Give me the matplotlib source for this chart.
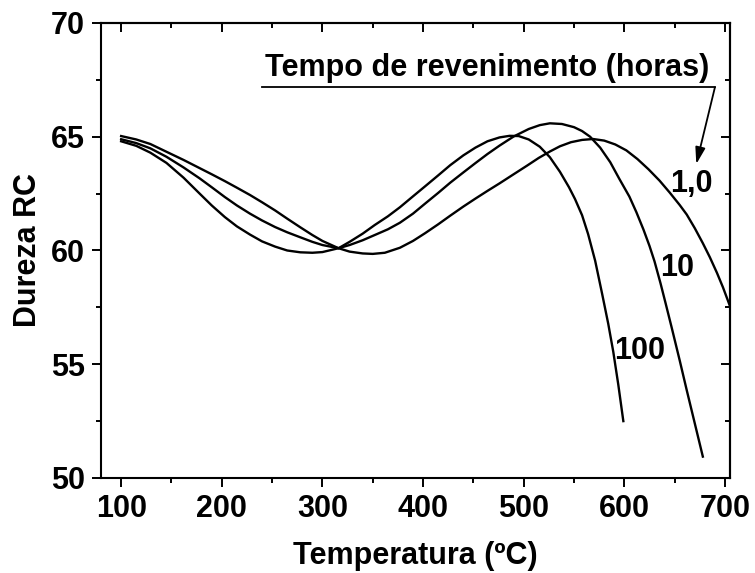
import matplotlib
matplotlib.use("Agg")
import matplotlib.pyplot as plt
from matplotlib.ticker import MultipleLocator

plt.rcParams['font.family'] = ['Liberation Sans', 'DejaVu Sans']
plt.rcParams['font.weight'] = 'bold'

# Dureza RC vs temperatura, por tempo de revenimento
t_1h = [100, 115, 129, 145, 162, 178, 190, 203, 215, 228, 240, 253, 265, 278, 290, 300,
        316, 327, 340, 350, 362, 377, 390, 402, 415, 427, 440, 452, 464, 476, 490, 503,
        515, 526, 536, 547, 558, 569, 580, 591, 602, 613, 624, 635, 645, 655, 662, 670,
        678, 685, 692, 698, 705]
hrc_1h = [65.03, 64.88, 64.68, 64.34, 63.98, 63.62, 63.35, 63.05, 62.76, 62.44, 62.12, 61.76,
          61.4, 61.02, 60.68, 60.42, 60.1, 59.95, 59.87, 59.85, 59.9, 60.12, 60.42, 60.76,
          61.15, 61.53, 61.93, 62.28, 62.62, 62.95, 63.35, 63.72, 64.07, 64.35, 64.58, 64.76,
          64.86, 64.9, 64.83, 64.66, 64.4, 64.02, 63.57, 63.07, 62.55, 62.0, 61.58, 60.98,
          60.32, 59.7, 59.02, 58.38, 57.55]

t_10h = [100, 115, 129, 145, 162, 178, 190, 203, 215, 228, 240, 253, 265, 278, 290, 300,
         316, 327, 340, 352, 365, 377, 390, 402, 415, 427, 440, 452, 464, 476, 490, 505,
         516, 526, 538, 550, 558, 566, 576, 586, 595, 605, 612, 619, 625, 630, 636, 641,
         647, 655, 662, 670, 678]
hrc_10h = [64.89, 64.72, 64.49, 64.12, 63.65, 63.17, 62.78, 62.35, 61.98, 61.62, 61.32, 61.03,
           60.8, 60.58, 60.38, 60.24, 60.1, 60.24, 60.45, 60.68, 60.93, 61.22, 61.62, 62.06,
           62.53, 62.98, 63.43, 63.84, 64.24, 64.61, 65.01, 65.34, 65.51, 65.59, 65.56, 65.42,
           65.25, 65.0, 64.52, 63.88, 63.15, 62.37, 61.68, 60.92, 60.2, 59.52, 58.55, 57.68,
           56.62, 55.17, 53.86, 52.4, 50.94]

t_100h = [100, 115, 129, 145, 162, 178, 190, 203, 215, 228, 240, 253, 265, 278, 290, 300,
          316, 327, 340, 352, 365, 377, 390, 402, 415, 427, 440, 452, 464, 476, 486, 495,
          505, 516, 526, 536, 545, 551, 558, 564, 571, 578, 584, 589, 594, 599]
hrc_100h = [64.8, 64.6, 64.3, 63.85, 63.2, 62.5, 61.98, 61.47, 61.06, 60.7, 60.4, 60.17,
            60.0, 59.92, 59.9, 59.93, 60.1, 60.38, 60.74, 61.12, 61.5, 61.9, 62.38, 62.82,
            63.3, 63.75, 64.18, 64.52, 64.8, 64.97, 65.04, 65.03, 64.88, 64.56, 64.1, 63.46,
            62.78, 62.26, 61.55, 60.72, 59.55, 58.08, 56.78, 55.55, 54.1, 52.5]

curve_labels = ['1,0', '10', '100']

fig = plt.figure(figsize=(7.55, 5.73), dpi=100)
ax = fig.add_axes([0.1338, 0.1658, 0.8331, 0.7941])

lw = 1.7
ax.plot(t_1h, hrc_1h, color='black', lw=lw, solid_joinstyle='round')
ax.plot(t_10h, hrc_10h, color='black', lw=lw, solid_joinstyle='round')
ax.plot(t_100h, hrc_100h, color='black', lw=lw, solid_joinstyle='round')

ax.set_xlim(80, 705)
ax.set_ylim(50, 70)
ax.xaxis.set_major_locator(MultipleLocator(100))
ax.xaxis.set_minor_locator(MultipleLocator(50))
ax.yaxis.set_major_locator(MultipleLocator(5))
ax.yaxis.set_minor_locator(MultipleLocator(2.5))
ax.tick_params(which='both', direction='out', width=1.4, labelsize=22)
ax.tick_params(axis='x', pad=5)
ax.tick_params(axis='y', pad=5)
ax.tick_params(which='major', length=6.5)
ax.tick_params(which='minor', length=3.5)
for s in ax.spines.values():
    s.set_linewidth(1.5)

# ticks internos no topo e a direita
top = ax.secondary_xaxis('top')
top.xaxis.set_major_locator(MultipleLocator(100))
top.xaxis.set_minor_locator(MultipleLocator(50))
top.tick_params(which='both', direction='in', width=1.4, labeltop=False)
top.tick_params(which='major', length=6.5)
top.tick_params(which='minor', length=3.5)
top.spines['top'].set_linewidth(1.5)
right = ax.secondary_yaxis('right')
right.yaxis.set_major_locator(MultipleLocator(5))
right.yaxis.set_minor_locator(MultipleLocator(2.5))
right.tick_params(which='both', direction='in', width=1.4, labelright=False)
right.tick_params(which='major', length=6.5)
right.tick_params(which='minor', length=3.5)
right.spines['right'].set_linewidth(1.5)

ax.set_xlabel('Temperatura (ºC)', fontsize=22, fontweight='bold', labelpad=12)
ax.set_ylabel('Dureza RC', fontsize=22, fontweight='bold', labelpad=6)

ax.text(464, 67.67, 'Tempo de revenimento (horas)', fontsize=22, fontweight='bold',
        ha='center', va='baseline')
ax.plot([240, 690], [67.17, 67.17], color='black', lw=1.3)
ax.annotate('', xy=(671.5, 63.8), xytext=(690, 67.17),
            arrowprops=dict(arrowstyle='-|>,head_length=1.0,head_width=0.3',
                            color='black', lw=1.3, shrinkA=0, shrinkB=0))

ax.text(667, 62.92, curve_labels[0], fontsize=22, fontweight='bold', ha='center', va='center')
ax.text(652, 59.23, curve_labels[1], fontsize=22, fontweight='bold', ha='center', va='center')
ax.text(615.4, 55.58, curve_labels[2], fontsize=22, fontweight='bold', ha='center', va='center')

fig.savefig('out.png', dpi=100)
